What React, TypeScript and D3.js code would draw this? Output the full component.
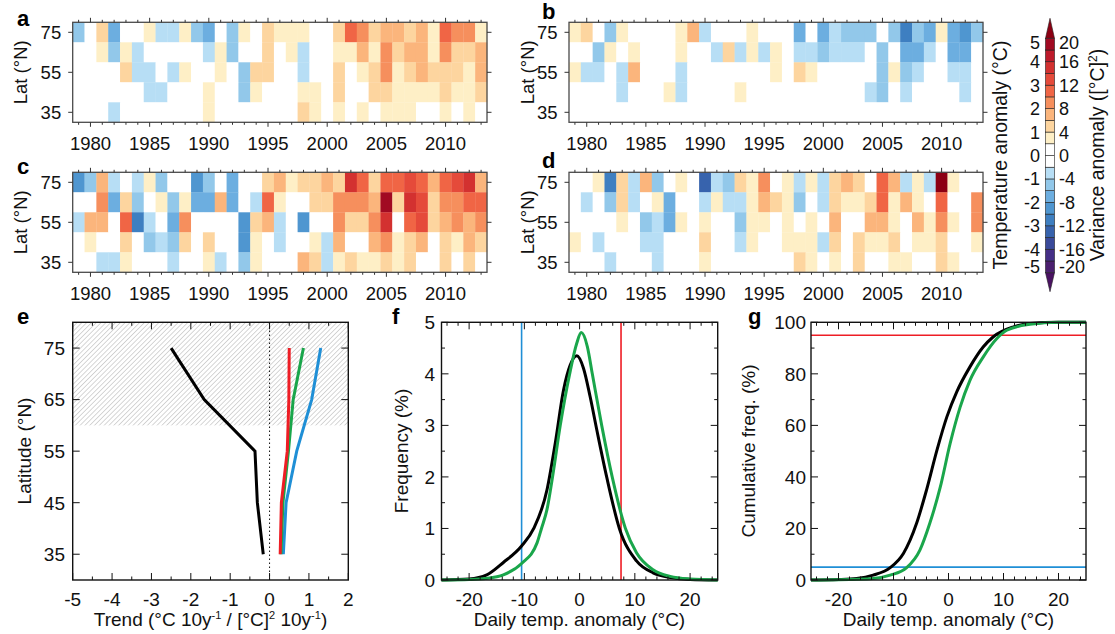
import React from "react";
import * as d3 from "d3";

const FONT = "'Liberation Sans', Arial, Helvetica, sans-serif";

// ---------- heat-map data (anomaly, °C, read as colour-bin midpoints) ----------
const years = [1979, 1980, 1981, 1982, 1983, 1984, 1985, 1986, 1987, 1988, 1989, 1990, 1991, 1992, 1993, 1994, 1995, 1996, 1997, 1998, 1999, 2000, 2001, 2002, 2003, 2004, 2005, 2006, 2007, 2008, 2009, 2010, 2011, 2012, 2013];
const lats = [75, 65, 55, 45, 35];
const yearTicks = [1980, 1985, 1990, 1995, 2000, 2005, 2010];
const latTicks = [75, 55, 35];

const a75 = [-1.25,0,1.25,-1.75,0, 0,0.75,-0.75,-0.75,0.75, -1.25,-1.75,0,-1.25,0.75, 0,1.25,0.75,0.75,0.75, 0,0,1.25,2.75,2.25, 1.25,1.75,1.75,1.25,1.75, 0.75,2.75,2.25,2.25,0.75];
const a65 = [0,0,0.75,-1.25,0.75, -0.75,0,0,0,0, 0,-0.75,0.75,-1.25,0, 0,1.25,0,0.75,-0.75, 0,0,0.75,0.75,1.75, 0.75,2.25,1.25,1.75,1.75, 0.75,2.25,1.25,1.25,1.75];
const a55 = [0,0,0,0,1.25, -0.75,-0.75,0,-0.75,0.75, 0,0,0.75,0,-1.25, 1.25,1.25,0,0,-0.75, 0,0,1.25,0,0.75, 1.25,2.25,0.75,1.25,1.75, 1.25,1.25,1.25,0.75,1.75];
const a45 = [0,0,0,0,0, 0,-0.75,-0.75,0,0, 0,0.75,0,0,-1.25, 0.75,0,0,0,0.75, 0.75,0,1.25,0,0, 1.25,1.25,0.75,0.75,0.75, 0.75,1.25,0.75,0.75,1.25];
const a35 = [0,0,0,-0.75,0, 0,0,0,0,0, 0,0.75,0,0,0, 0,0,0,0,1.25, 0.75,0,0.75,0,0.75, 0,0.75,0.75,0.75,0, 0,0.75,0,0.75,0];

const b75 = [0.75,1.25,0,-1.25,0.75, 0,0,0,0,0.75, 1.75,-0.75,0,0,0, 0.75,0,0,0,-1.75, 0,-1.75,-0.75,-1.25,-1.25, -1.25,0,-1.25,-2.75,-1.25, -1.75,0.75,-1.75,-2.25,-1.25];
const b65 = [0,0,-1.25,0.75,0, 0.75,0,0,0,0.75, 0,0,-0.75,1.25,-0.75, 0.75,-0.75,0.75,0,-0.75, -0.75,-1.25,-0.75,-0.75,-0.75, 0,-1.25,0,-1.75,-1.75, -0.75,0,-1.75,-1.75,0];
const b55 = [0.75,-0.75,-0.75,0,-0.75, 1.75,0,0,0,-0.75, 0,0,0,0,0, 0,0,0.75,0,1.25, 0.75,0,0,0,0, 0,-1.25,0.75,-1.25,-0.75, 0,0,-0.75,-0.75,0];
const b45 = [0,0,0,0,-0.75, 0,0,0,0.75,-0.75, 0,0,0,0,0.75, 0,0,0,0,0, 0,0,0,0,0, -0.75,-1.25,0,-0.75,0, 0,0,0,-0.75,0];
const b35 = [0,0,0,0,0, 0,0,0,0,0, 0,0,0,0,0, 0,0,0,0,0, 0,0,0,0,0, 0,0,0,0,0, 0,0,0,0,0];

const c75 = [-2.25,-1.25,1.75,-0.75,0, -0.75,0.75,-1.25,0,0, -2.25,-1.25,0,-1.75,0, 0,1.25,1.75,0.75,1.25, 1.25,1.75,1.25,3.75,2.75, 1.25,2.75,2.75,3.25,2.75, 1.75,2.75,3.25,3.75,1.75];
const c65 = [0,0,2.25,-1.75,1.25, -1.25,0,0.75,-1.25,0.75, -1.75,-1.75,1.75,-1.75,0, -0.75,2.75,0.75,0,0, 1.25,1.25,2.25,2.25,2.25, 1.75,4.75,1.25,3.75,3.25, 1.25,2.25,2.25,2.75,2.75];
const c55 = [-0.75,1.75,1.75,0,2.75, -2.75,-0.75,0,-1.75,2.25, 0,0,0,0,-2.25, 1.25,1.75,-0.75,0,-2.25, 0,0,2.25,1.25,1.25, 2.25,3.75,0,2.75,3.25, 1.25,1.75,2.25,1.75,2.25];
const c45 = [0,0.75,0,0,1.25, 0,-1.25,-0.75,-1.25,1.25, 0,1.25,0,0,-2.25, 0.75,0,-0.75,0,0, 0.75,-0.75,1.75,0,0, 1.75,2.25,0.75,1.25,1.75, 0,1.25,0.75,1.75,1.25];
const c35 = [0,0,-0.75,-0.75,0.75, 0,0,0,-0.75,0, 0,0.75,-0.75,0,-1.25, 0.75,0,0,0,1.75, 1.25,-0.75,0.75,1.25,0.75, 0.75,1.25,0.75,1.25,0, 0,1.25,0,1.25,0];

const d75 = [0,0,0.75,-2.75,1.25, -0.75,1.75,-1.25,0,0.75, 0,-3.25,-0.75,-1.25,1.25, 0.75,2.25,0,0.75,-0.75, 0.75,-0.75,1.25,1.75,1.25, 0,2.75,1.75,-0.75,0.75, -0.75,5.25,0.75,0,0];
const d65 = [0,-0.75,0,-1.25,1.25, -0.75,0,0.75,-1.75,0, 0,-0.75,0.75,-0.75,-0.75, 0.75,1.75,1.25,0.75,-1.25, 0,-0.75,1.25,0.75,0.75, 1.25,2.75,0.75,1.75,0.75, 0,2.75,0,0,2.25];
const d55 = [0,0,0,0,0.75, 0,-1.25,-0.75,-1.75,0.75, 0,0.75,0,0,-1.25, 0.75,0.75,0,0.75,0, 0.75,0,1.75,0,0, 1.75,1.75,0.75,0,1.75, 0.75,2.25,0.75,0,2.25];
const d45 = [0.75,0,-0.75,0,0, 0,-0.75,-0.75,0,0, 0,1.25,0,0,-0.75, 0.75,0,0,0.75,0.75, 0.75,-0.75,1.25,0,1.25, 0.75,0.75,1.25,0,0.75, 0.75,1.25,0,0,0.75];
const d35 = [0,0,0,-0.75,0, 0,0,-0.75,0,0, 0,0.75,0,0,0, 0,0,0,0,1.25, 0.75,0,0.75,0,1.25, 0,0,0.75,0.75,0, 0,1.25,0.75,0,0];

// ---------- colour scale ----------
const thresholds = [-5, -4.5, -4, -3.5, -3, -2.5, -2, -1.5, -1, -0.5, 0, 0.5, 1, 1.5, 2, 2.5, 3, 3.5, 4, 4.5, 5];
const palette = [
  "#4a1262", "#4b1f6e", "#452f86", "#3a4a9a", "#3763ad", "#3e7fc1", "#4f96d0", "#6caee0", "#92c8ea", "#b7def5",
  "#ffffff", "#ffffff",
  "#feefc6", "#fdd59f", "#fbb57c", "#f68f5d", "#f06545", "#e54a3a", "#d33130", "#bd1a2b", "#a10a22", "#8c0013",
];
const cbTempTicks = [-5, -4, -3, -2, -1, 0, 1, 2, 3, 4, 5];
const cbVarTicks = [-20, -16, -12, -8, -4, 0, 4, 8, 12, 16, 20];

// ---------- panel e ----------
const eLats = [75, 65, 55, 45, 35];
const eBlack = [-2.5, -1.66, -0.37, -0.31, -0.16];
const eRed = [0.5, 0.49, 0.45, 0.3, 0.27];
const eGreen = [0.86, 0.6, 0.48, 0.34, 0.29];
const eBlue = [1.3, 1.07, 0.69, 0.42, 0.35];
const eXTicks = [-5, -4, -3, -2, -1, 0, 1, 2];
const eYTicks = [35, 45, 55, 65, 75];

// ---------- panel f ----------
const fBlack = [[-25,0],[-20,0.02],[-16.8,0.1],[-13.8,0.34],[-10.5,0.66],[-8.3,1.0],[-5.9,1.75],[-4.4,2.66],[-2.9,3.69],[-1.7,4.17],[-0.5,4.35],[0.7,4.11],[1.9,3.56],[3.1,2.92],[4.9,2.0],[7.2,1.0],[10.3,0.37],[13.3,0.14],[16.4,0.05],[20,0.01],[25,0]];
const fGreen = [[-25,0],[-20,0.01],[-17,0.03],[-13.8,0.1],[-10.5,0.32],[-7.7,0.72],[-6.9,1.0],[-5.9,1.37],[-4.9,2.0],[-3.5,3.0],[-1.8,4.0],[-0.5,4.6],[0.3,4.8],[1.4,4.53],[2.3,4.0],[4.0,3.0],[5.9,2.0],[8.3,1.0],[10.3,0.53],[13.3,0.2],[16.4,0.07],[20,0.02],[25,0]];
const fP05 = -10.5;
const fP95 = 7.5;
const fXTicks = [-20, -10, 0, 10, 20];
const fYTicks = [0, 1, 2, 3, 4, 5];

// ---------- panel g ----------
const gBlack = [[-25,0],[-20,0.2],[-16.7,0.6],[-13.7,1.9],[-10.6,4.8],[-8.2,10.3],[-5.8,22],[-4.0,34.9],[-2.1,50.4],[-0.3,63.3],[1.5,73],[3.9,82.7],[6.3,90.4],[8.1,94.3],[11.8,98.2],[14.8,99.5],[20,100],[25,100]];
const gGreen = [[-25,0],[-20,0.1],[-13.7,0.6],[-10.6,1.9],[-7.6,4.8],[-5.2,11.6],[-3.4,22],[-1.5,36],[0.3,53],[2.1,67],[3.9,77.5],[6.3,86.5],[8.8,93.7],[10.6,96.9],[14.8,99.2],[20,100],[25,100]];
const gLow = 5;
const gHigh = 95;
const gYTicks = [0, 20, 40, 60, 80, 100];

const RED = "#ee1d25";
const GREEN = "#1aa64b";
const BLUE = "#1f8fd6";

const colorScale = d3.scaleThreshold<number, string>().domain(thresholds).range(palette);

function HeatPanel({ rows, x0, x1, y0, y1, letter, letterX, letterY, ylabelX }: any) {
  const xs = d3.scaleLinear().domain([years[0] - 0.5, years[years.length - 1] + 0.5]).range([x0, x1]);
  const ys = d3.scaleLinear().domain([30, 80]).range([y1, y0]);
  return (
    <g>
      {rows.map((row: number[], r: number) =>
        row.map((v, i) => {
          const yr = years[i];
          const lat = lats[r];
          return (
            <rect key={r + "-" + i} x={xs(yr - 0.5)} y={ys(lat + 5)} width={xs(yr + 0.5) - xs(yr - 0.5) + 0.3}
              height={ys(lat - 5) - ys(lat + 5) + 0.3} fill={colorScale(v)} />
          );
        })
      )}
      <rect x={x0} y={y0} width={x1 - x0} height={y1 - y0} fill="none" stroke="#4a4a4a" strokeWidth={1.3} />
      {years.map((yr) => {
        const major = yr % 5 === 0;
        const L = major ? 4.5 : 2.5;
        return (
          <g key={"t" + yr} stroke="#333" strokeWidth={1}>
            <line x1={xs(yr)} x2={xs(yr)} y1={y1} y2={y1 + L} />
            <line x1={xs(yr)} x2={xs(yr)} y1={y0} y2={y0 - L} />
          </g>
        );
      })}
      {latTicks.map((lt) => (
        <g key={"l" + lt} stroke="#333" strokeWidth={1}>
          <line x1={x0} x2={x0 - 4.5} y1={ys(lt)} y2={ys(lt)} />
          <line x1={x1} x2={x1 + 4.5} y1={ys(lt)} y2={ys(lt)} />
        </g>
      ))}
      {yearTicks.map((yr) => (
        <text key={"yl" + yr} x={xs(yr)} y={y1 + 27.3} fontSize={18.5} textAnchor="middle" fill="#111">{yr}</text>
      ))}
      {latTicks.map((lt) => (
        <text key={"ll" + lt} x={x0 - 11.5} y={ys(lt)} dy="0.36em" fontSize={18.5} textAnchor="end" fill="#111">{lt}</text>
      ))}
      <text transform={`translate(${ylabelX},${(y0 + y1) / 2}) rotate(-90)`} fontSize={18.5} textAnchor="middle" fill="#111">Lat (°N)</text>
      <text x={letterX} y={letterY} fontSize={22} fontWeight="bold" fill="#000">{letter}</text>
    </g>
  );
}

function InTicks({ xs, ys, xMajor, xMinor, yMajor, yMinor }: any) {
  const [x0, x1] = xs.range();
  const [y1, y0] = ys.range();
  const M = 7, m = 3.5;
  const out: any[] = [];
  xMajor.forEach((v: number, i: number) => {
    out.push(<line key={"xM" + i} x1={xs(v)} x2={xs(v)} y1={y1} y2={y1 - M} />);
    out.push(<line key={"xMt" + i} x1={xs(v)} x2={xs(v)} y1={y0} y2={y0 + M} />);
  });
  xMinor.forEach((v: number, i: number) => {
    out.push(<line key={"xm" + i} x1={xs(v)} x2={xs(v)} y1={y1} y2={y1 - m} />);
    out.push(<line key={"xmt" + i} x1={xs(v)} x2={xs(v)} y1={y0} y2={y0 + m} />);
  });
  yMajor.forEach((v: number, i: number) => {
    out.push(<line key={"yM" + i} x1={x0} x2={x0 + M} y1={ys(v)} y2={ys(v)} />);
    out.push(<line key={"yMr" + i} x1={x1} x2={x1 - M} y1={ys(v)} y2={ys(v)} />);
  });
  yMinor.forEach((v: number, i: number) => {
    out.push(<line key={"ym" + i} x1={x0} x2={x0 + m} y1={ys(v)} y2={ys(v)} />);
    out.push(<line key={"ymr" + i} x1={x1} x2={x1 - m} y1={ys(v)} y2={ys(v)} />);
  });
  return (
    <g stroke="#111" strokeWidth={1}>
      {out}
      <rect x={x0} y={y0} width={x1 - x0} height={y1 - y0} fill="none" stroke="#111" strokeWidth={1.4} />
    </g>
  );
}

function XLabels({ xs, ticks, y }: any) {
  return (
    <g>
      {ticks.map((t: number) => (
        <text key={t} x={xs(t)} y={y} fontSize={19} textAnchor="middle" fill="#111">{t}</text>
      ))}
    </g>
  );
}
function YLabels({ ys, ticks, x }: any) {
  return (
    <g>
      {ticks.map((t: number) => (
        <text key={t} x={x} y={ys(t)} dy="0.36em" fontSize={19} textAnchor="end" fill="#111">{t}</text>
      ))}
    </g>
  );
}

function Colorbar() {
  const cy = d3.scaleLinear().domain([-5, 5]).range([272.7, 38.3]);
  const cyVar = d3.scaleLinear().domain([-20, 20]).range([272.7, 38.3]);
  const xL = 1045.5, xR = 1054.5, xc = (xL + xR) / 2;
  const clampY = (y: number) => Math.max(43, Math.min(267, y));
  return (
    <g>
      <polygon points={`${xL},${cy(5)} ${xR},${cy(5)} ${xc},${cy(5) - 20}`} fill={palette[21]} stroke="#222" strokeWidth={0.6} />
      <polygon points={`${xL},${cy(-5)} ${xR},${cy(-5)} ${xc},${cy(-5) + 19}`} fill={palette[0]} stroke="#222" strokeWidth={0.6} />
      {thresholds.slice(0, -1).map((t, k) => (
        <rect key={k} x={xL} y={cy(thresholds[k + 1])} width={xR - xL} height={cy(t) - cy(thresholds[k + 1])}
          fill={palette[k + 1]} stroke="#222" strokeWidth={0.6} />
      ))}
      {cbTempTicks.map((t) => (
        <text key={"t" + t} x={1040} y={clampY(cy(t))} dy="0.36em" fontSize={18} textAnchor="end" fill="#111">{t}</text>
      ))}
      {cbVarTicks.map((t) => (
        <text key={"v" + t} x={1059} y={clampY(cyVar(t))} dy="0.36em" fontSize={18} textAnchor="start" fill="#111">{t}</text>
      ))}
      <text transform={`translate(1007,155) rotate(-90)`} fontSize={19.5} textAnchor="middle" fill="#111">Temperature anomaly (°C)</text>
      <text transform={`translate(1104,155) rotate(-90)`} fontSize={19.5} textAnchor="middle" fill="#111">
        Variance anomaly ([°C]<tspan dy={-7} fontSize={12}>2</tspan><tspan dy={7}>)</tspan>
      </text>
    </g>
  );
}

function PanelE() {
  const xs = d3.scaleLinear().domain([-5, 2]).range([72.7, 348.3]);
  const ys = d3.scaleLinear().domain([30, 80]).range([580, 322.3]);
  const line = (vals: number[]) =>
    d3.line<number>().x((d) => xs(d)).y((_, i) => ys(eLats[i]))(vals) as string;
  return (
    <g>
      <defs>
        <pattern id="hatch" patternUnits="userSpaceOnUse" width={3.4} height={3.4} patternTransform="rotate(45)">
          <line x1={0} y1={0} x2={0} y2={3.4} stroke="#9a9a9a" strokeWidth={0.8} />
        </pattern>
      </defs>
      <rect x={xs(-5)} y={ys(80)} width={xs(2) - xs(-5)} height={ys(60) - ys(80)} fill="url(#hatch)" />
      <line x1={xs(0)} x2={xs(0)} y1={ys(30)} y2={ys(80)} stroke="#111" strokeWidth={1} strokeDasharray="1.5,2.5" />
      <path d={line(eBlack)} fill="none" stroke="#000" strokeWidth={3} />
      <path d={line(eBlue)} fill="none" stroke={BLUE} strokeWidth={3} />
      <path d={line(eGreen)} fill="none" stroke={GREEN} strokeWidth={3} />
      <path d={line(eRed)} fill="none" stroke={RED} strokeWidth={3} />
      <InTicks xs={xs} ys={ys} xMajor={eXTicks} xMinor={d3.range(-4.5, 2, 1)} yMajor={eYTicks} yMinor={[]} />
      <XLabels xs={xs} ticks={eXTicks} y={605.5} />
      <YLabels ys={ys} ticks={eYTicks} x={65} />
      <text transform={`translate(31,451) rotate(-90)`} fontSize={19} textAnchor="middle" fill="#111">Latitude (°N)</text>
      <text x={210.5} y={626} fontSize={19} textAnchor="middle" fill="#111">
        Trend (°C 10y<tspan dy={-7} fontSize={11}>-1</tspan><tspan dy={7}> / [°C]</tspan><tspan dy={-7} fontSize={11}>2</tspan><tspan dy={7}> 10y</tspan><tspan dy={-7} fontSize={11}>-1</tspan><tspan dy={7}>)</tspan>
      </text>
      <text x={17} y={324} fontSize={22} fontWeight="bold" fill="#000">e</text>
    </g>
  );
}

function PanelF() {
  const xs = d3.scaleLinear().domain([-25, 25]).range([441.5, 717.7]);
  const ys = d3.scaleLinear().domain([0, 5]).range([580, 322.3]);
  const line = d3.line<number[]>().x((d) => xs(d[0])).y((d) => ys(d[1])).curve(d3.curveMonotoneX);
  return (
    <g>
      <line x1={xs(fP05)} x2={xs(fP05)} y1={ys(0)} y2={ys(5)} stroke={BLUE} strokeWidth={1.6} />
      <line x1={xs(fP95)} x2={xs(fP95)} y1={ys(0)} y2={ys(5)} stroke={RED} strokeWidth={1.6} />
      <path d={line(fBlack) as string} fill="none" stroke="#000" strokeWidth={3} />
      <path d={line(fGreen) as string} fill="none" stroke={GREEN} strokeWidth={3} />
      <InTicks xs={xs} ys={ys} xMajor={fXTicks} xMinor={d3.range(-24, 25, 2).filter((v) => v % 10 !== 0)}
        yMajor={fYTicks} yMinor={d3.range(0.5, 5, 1)} />
      <XLabels xs={xs} ticks={fXTicks} y={606} />
      <YLabels ys={ys} ticks={fYTicks} x={435} />
      <text transform={`translate(408,451) rotate(-90)`} fontSize={19} textAnchor="middle" fill="#111">Frequency (%)</text>
      <text x={579.5} y={626} fontSize={19} textAnchor="middle" fill="#111">Daily temp. anomaly (°C)</text>
      <text x={392} y={324} fontSize={22} fontWeight="bold" fill="#000">f</text>
    </g>
  );
}

function PanelG() {
  const xs = d3.scaleLinear().domain([-25, 25]).range([811, 1086]);
  const ys = d3.scaleLinear().domain([0, 100]).range([580, 322.3]);
  const line = d3.line<number[]>().x((d) => xs(d[0])).y((d) => ys(d[1])).curve(d3.curveMonotoneX);
  return (
    <g>
      <line x1={xs(-25)} x2={xs(25)} y1={ys(gHigh)} y2={ys(gHigh)} stroke={RED} strokeWidth={1.6} />
      <line x1={xs(-25)} x2={xs(25)} y1={ys(gLow)} y2={ys(gLow)} stroke={BLUE} strokeWidth={1.6} />
      <path d={line(gBlack) as string} fill="none" stroke="#000" strokeWidth={3} />
      <path d={line(gGreen) as string} fill="none" stroke={GREEN} strokeWidth={3} />
      <InTicks xs={xs} ys={ys} xMajor={fXTicks} xMinor={d3.range(-24, 25, 2).filter((v) => v % 10 !== 0)}
        yMajor={gYTicks} yMinor={d3.range(10, 100, 20)} />
      <XLabels xs={xs} ticks={fXTicks} y={606} />
      <YLabels ys={ys} ticks={gYTicks} x={806} />
      <text transform={`translate(755,451) rotate(-90)`} fontSize={19} textAnchor="middle" fill="#111">Cumulative freq. (%)</text>
      <text x={948.5} y={626} fontSize={19} textAnchor="middle" fill="#111">Daily temp. anomaly (°C)</text>
      <text x={748} y={324} fontSize={22} fontWeight="bold" fill="#000">g</text>
    </g>
  );
}

export default function App() {
  return (
    <svg width={1115} height={634} viewBox="0 0 1115 634"
      style={{ position: "absolute", left: 0, top: 0, background: "#fff", fontFamily: FONT }}>
      <rect x={0} y={0} width={1115} height={634} fill="#fff" />
      <HeatPanel rows={[a75, a65, a55, a45, a35]} x0={72.7} x1={487} y0={22.3} y1={122.3} letter="a" letterX={17} letterY={25.5} ylabelX={27} />
      <HeatPanel rows={[b75, b65, b55, b45, b35]} x0={569} x1={983} y0={22.3} y1={122.3} letter="b" letterX={542} letterY={19} ylabelX={534} />
      <HeatPanel rows={[c75, c65, c55, c45, c35]} x0={72.7} x1={487} y0={172.3} y1={272.3} letter="c" letterX={17} letterY={174} ylabelX={27} />
      <HeatPanel rows={[d75, d65, d55, d45, d35]} x0={569} x1={983} y0={172.3} y1={272.3} letter="d" letterX={542} letterY={168} ylabelX={534} />
      <Colorbar />
      <PanelE />
      <PanelF />
      <PanelG />
    </svg>
  );
}
